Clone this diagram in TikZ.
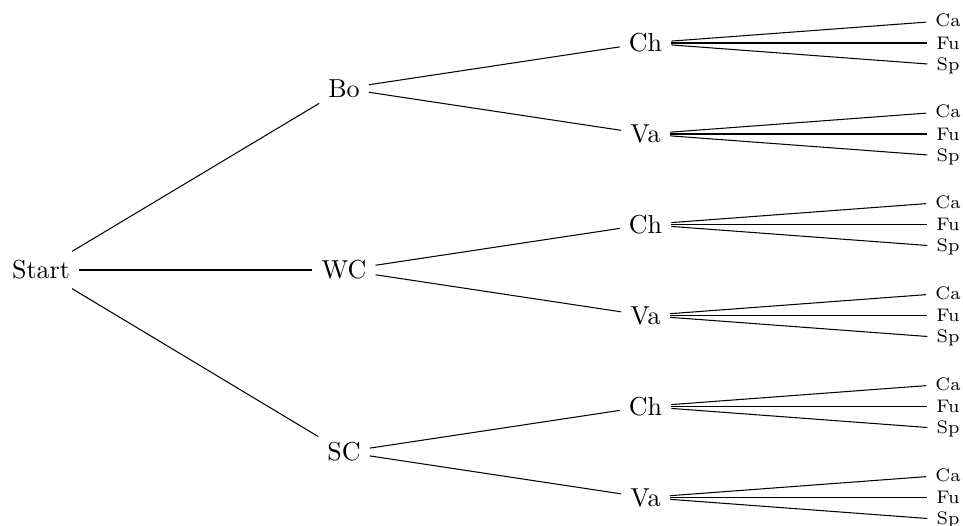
\documentclass[tikz,border=0pt]{standalone}
\begin{document}
\begin{tikzpicture}[x=0.385pt,y=-0.385pt,
  edge/.style={draw,line width=0.4pt},
  leaf/.style={font=\scriptsize}]
\useasboundingbox (0,0) rectangle (963,525);
\node (start) at (41,270) {Start};
\node (bo) at (344,88.5) {Bo};
\node (wc) at (344,270) {WC};
\node (sc) at (344,452) {SC};
\draw[edge] (start) -- (bo);
\draw[edge] (start) -- (wc);
\draw[edge] (start) -- (sc);
\foreach \p/\y in {bo/88.5, wc/270, sc/452} {
  \foreach \q/\lab/\dy in {ch/Ch/-45.5, va/Va/45.5} {
    \node (\p\q) at ({645.5},{\y+(\dy)}) {\lab};
    \draw[edge] (\p) -- (\p\q);
    \foreach \r/\rl/\ry in {ca/Ca/-22.5, fu/Fu/0, sp/Sp/22.5} {
      \node[leaf] (\p\q\r) at ({948},{\y+(\dy)+(\ry)}) {\rl};
      \draw[edge] (\p\q) -- (\p\q\r);
    }
  }
}
\end{tikzpicture}
\end{document}
